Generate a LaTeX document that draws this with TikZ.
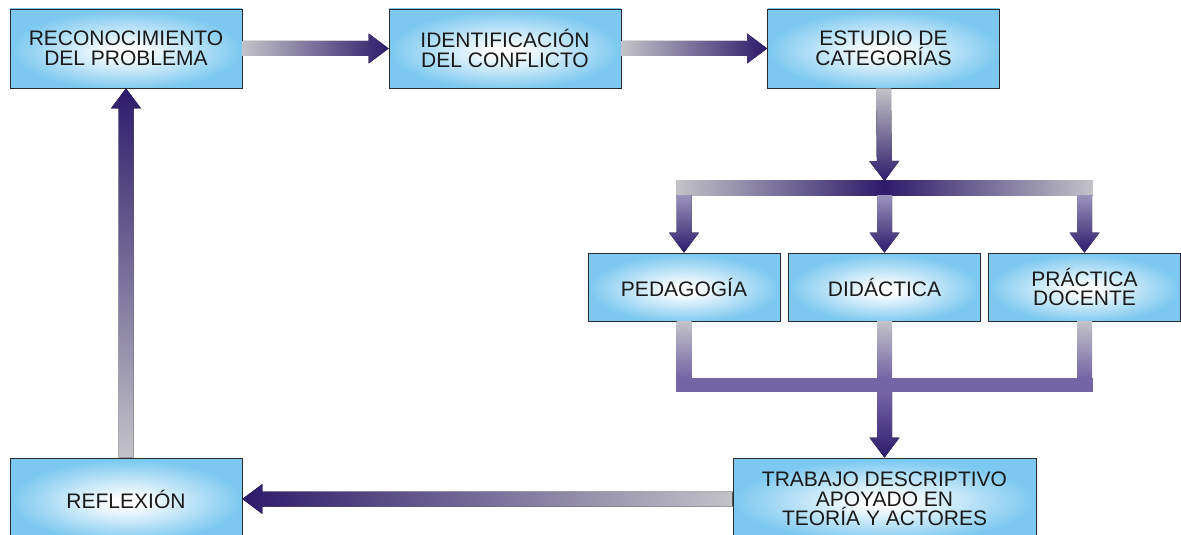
\documentclass[tikz,border=0pt]{standalone}
\usepackage{fontspec}
\setmainfont{Liberation Sans}
\usetikzlibrary{calc}

\definecolor{boxblue}{HTML}{7CC8F0}
\definecolor{boxline}{HTML}{2A2A2A}
\definecolor{txt}{HTML}{1A1A1A}
\definecolor{adark}{HTML}{2D1B6B}
\definecolor{agray}{HTML}{C3C3C8}
\definecolor{apale}{HTML}{9A93BC}
\definecolor{apurple}{HTML}{7465A6}

\pgfdeclareradialshading{boxglow}{\pgfpoint{0bp}{-2bp}}{%
  color(0bp)=(white); color(3bp)=(white); color(25bp)=(boxblue); color(50bp)=(boxblue)}

% thick block arrow from #1 to tip #2, filled with the shading #3
\newcommand\blockarrow[3]{%
  \coordinate (hb) at ($(#2)!20pt!(#1)$);
  \fill[#3]
    ($(#1)!7.5pt!90:(#2)$) -- ($(hb)!7.5pt!90:(#2)$) -- ($(hb)!15pt!90:(#2)$)
    -- (#2) -- ($(hb)!15pt!-90:(#2)$) -- ($(hb)!7.5pt!-90:(#2)$)
    -- ($(#1)!7.5pt!-90:(#2)$) -- cycle;}

\tikzset{
  stepbox/.style={draw=boxline, line width=0.8pt, shading=boxglow,
    text=txt, align=center, inner sep=0pt,
    font=\fontsize{21}{19.5}\selectfont},
  bigbox/.style={stepbox, minimum width=232pt, minimum height=79pt},
  catbox/.style={stepbox, minimum width=192pt, minimum height=68pt},
}

\begin{document}
\begin{tikzpicture}[x=1pt, y=-1pt]
\useasboundingbox (0,0) rectangle (1181,535);

% process steps
\node[bigbox] (rec) at (126,48.5) {RECONOCIMIENTO\\DEL PROBLEMA};
\node[bigbox] (ide) at (505,48.5) {IDENTIFICACIÓN\\DEL CONFLICTO};
\node[bigbox] (est) at (883.5,48.5) {ESTUDIO DE\\CATEGORÍAS};

% categories
\node[catbox] (ped) at (684,287) {PEDAGOGÍA};
\node[catbox] (did) at (884.5,287) {DIDÁCTICA};
\node[catbox] (pra) at (1084.5,287) {PRÁCTICA\\DOCENTE};

% bottom row
\node[stepbox, minimum width=303pt, minimum height=82pt] (tra) at (884.5,499)
  {TRABAJO DESCRIPTIVO\\APOYADO EN\\TEORÍA Y ACTORES};
\node[stepbox, minimum width=232pt, minimum height=82pt] (ref) at (126,499)
  {REFLEXIÓN};

% junction points
\coordinate (split) at (884.5,181);
\coordinate (s1) at (684,195);
\coordinate (s2) at (884.5,195);
\coordinate (s3) at (1084.5,195);
\coordinate (m1) at (684,378);
\coordinate (m2) at (884.5,378);
\coordinate (m3) at (1084.5,378);
\coordinate (merge) at (884.5,392);

% top row flow
\blockarrow{rec.east}{ide.west}{left color=agray, right color=adark}
\blockarrow{ide.east}{est.west}{left color=agray, right color=adark}

% split into the three categories
\blockarrow{est.south}{split}{top color=agray, bottom color=adark}
\fill[left color=agray, right color=agray, middle color=adark]
  (676,180) rectangle (1093,195);
\blockarrow{s1}{ped.north}{top color=apale, bottom color=adark}
\blockarrow{s2}{did.north}{top color=apale, bottom color=adark}
\blockarrow{s3}{pra.north}{top color=apale, bottom color=adark}

% merge of the categories
\fill[top color=agray, bottom color=apurple] ($(ped.south)+(-7.5,0)$) rectangle ($(m1)+(7.5,0)$);
\fill[top color=agray, bottom color=apurple] ($(did.south)+(-7.5,0)$) rectangle ($(m2)+(7.5,0)$);
\fill[top color=agray, bottom color=apurple] ($(pra.south)+(-7.5,0)$) rectangle ($(m3)+(7.5,0)$);
\fill[apurple] (676,378) rectangle (1093,392);
\blockarrow{merge}{tra.north}{top color=apurple, bottom color=adark}

% back to the start
\blockarrow{tra.west}{ref.east}{left color=adark, right color=agray}
\blockarrow{ref.north}{rec.south}{top color=adark, bottom color=agray}
\end{tikzpicture}
\end{document}
